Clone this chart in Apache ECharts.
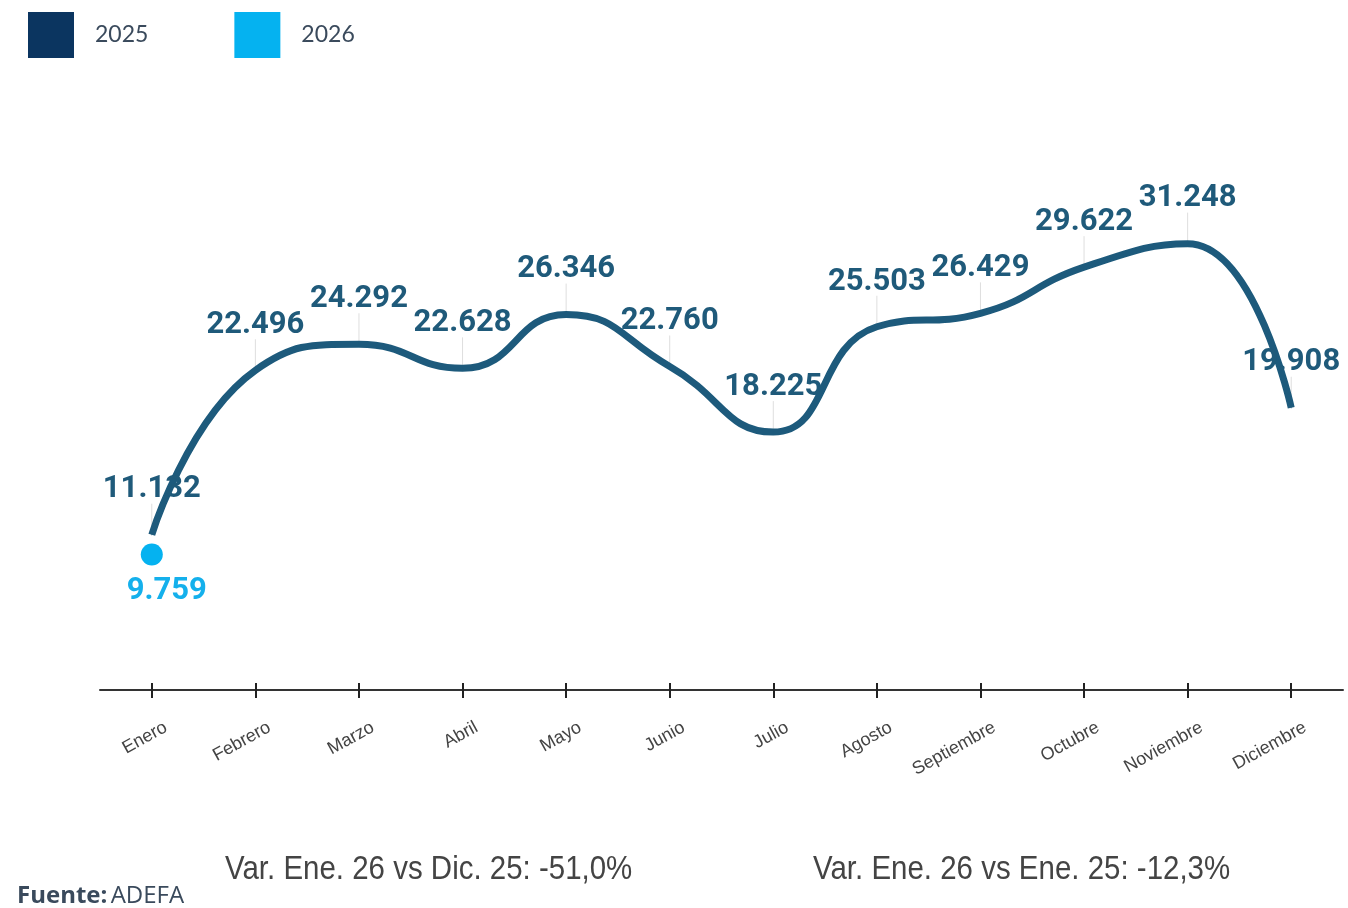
<!DOCTYPE html>
<html>
<head>
<meta charset="utf-8">
<script src="https://cdn.jsdelivr.net/npm/echarts@6/dist/echarts.min.js"></script>
<style>
	html, body { margin: 0; padding: 0; background: #fff; }
	#main { width: 1348px; height: 908px; }
</style>
</head>
<body>
<div id="main"></div>
<script>
'use strict';
// meses
var months = ['Enero', 'Febrero', 'Marzo', 'Abril', 'Mayo', 'Junio', 'Julio',
	'Agosto', 'Septiembre', 'Octubre', 'Noviembre', 'Diciembre'];
// patentamientos 2025
var values2025 = [11132, 22496, 24292, 22628, 26346, 22760, 18225, 25503, 26429, 29622, 31248, 19908];
// 2026 (solo enero)
var values2026 = [9759, null, null, null, null, null, null, null, null, null, null, null];

var noteLeft = 'Var. Ene. 26 vs Dic. 25: -51,0%';
var noteRight = 'Var. Ene. 26 vs Ene. 25: -12,3%';

var lineColor = '#1d5a7c';
var darkColor = '#0b3560';
var lightColor = '#05b2f0';

var chart = echarts.init(document.getElementById('main'));

var fmt = function(v) {
	return v.toLocaleString('de-DE');
};

var tickStyle = { color : '#222', width : 2 };

var option = {
	animation : false,
	legend : {
		left : 28,
		top : 12,
		padding : 0,
		itemWidth : 46,
		itemHeight : 46,
		itemGap : 86,
		icon : 'rect',
		textStyle : {
			fontFamily : 'Lato',
			fontSize : 23,
			color : '#3a4a5c',
			padding : [ 0, 0, 0, 16 ]
		},
		data : [ {
			name : '2025',
			itemStyle : { color : darkColor }
		}, {
			name : '2026',
			itemStyle : { color : lightColor }
		} ]
	},
	grid : {
		left : 100,
		right : 5,
		top : 117,
		bottom : 218
	},
	xAxis : [ {
		type : 'category',
		data : months,
		boundaryGap : true,
		axisLine : {
			lineStyle : { color : '#333', width : 2 }
		},
		axisTick : {
			show : true,
			alignWithLabel : true,
			length : 8,
			lineStyle : tickStyle
		},
		axisLabel : {
			rotate : 29,
			margin : 44,
			interval : 0,
			fontFamily : 'Liberation Sans',
			fontSize : 18,
			color : '#444',
			padding : [ 0, -16, 0, 0 ]
		}
	}, {
		// ticks hacia arriba
		type : 'category',
		data : months,
		position : 'bottom',
		boundaryGap : true,
		axisLine : { show : false },
		axisTick : {
			show : true,
			alignWithLabel : true,
			inside : true,
			length : 7,
			lineStyle : tickStyle
		},
		axisLabel : { show : false }
	} ],
	yAxis : {
		type : 'value',
		min : 400,
		max : 40000,
		show : false
	},
	series : [ {
		// guias de las etiquetas
		type : 'custom',
		z : 1,
		silent : true,
		data : values2025.map(function(v, i) { return [ i, v ]; }),
		renderItem : function(params, api) {
			var p = api.coord([ api.value(0), api.value(1) ]);
			return {
				type : 'line',
				shape : { x1 : p[0], y1 : p[1], x2 : p[0], y2 : p[1] - 31 },
				style : { stroke : '#dedede', lineWidth : 1 }
			};
		}
	}, {
		name : '2025',
		type : 'line',
		z : 3,
		data : values2025,
		smooth : 0.5,
		symbol : 'circle',
		symbolSize : 1,
		itemStyle : { color : lineColor },
		lineStyle : { color : lineColor, width : 7 },
		label : {
			show : true,
			position : 'top',
			distance : 29,
			fontFamily : 'Roboto',
			fontWeight : 'bold',
			fontSize : 31,
			color : '#1f5a7a',
			formatter : function(p) { return fmt(p.value); }
		}
	}, {
		name : '2026',
		type : 'line',
		z : 4,
		data : values2026,
		symbol : 'circle',
		symbolSize : 22,
		itemStyle : { color : lightColor },
		lineStyle : { width : 0 },
		label : {
			show : true,
			position : 'bottom',
			distance : 10,
			offset : [ 15, 0 ],
			fontFamily : 'Roboto',
			fontWeight : 'bold',
			fontSize : 31,
			color : '#14b0ec',
			formatter : function(p) { return fmt(p.value); }
		}
	} ],
	graphic : [ {
		type : 'text',
		x : 225,
		y : 853,
		scaleX : 0.893,
		style : {
			text : noteLeft,
			fontFamily : 'Liberation Sans',
			fontSize : 33,
			fill : '#444'
		}
	}, {
		type : 'text',
		x : 813,
		y : 853,
		scaleX : 0.893,
		style : {
			text : noteRight,
			fontFamily : 'Liberation Sans',
			fontSize : 33,
			fill : '#444'
		}
	}, {
		type : 'text',
		x : 17,
		y : 884,
		style : {
			text : '{b|Fuente:} {n|ADEFA}',
			rich : {
				b : { fontFamily : 'Open Sans', fontWeight : 'bold', fontSize : 24, fill : '#3a4a5c' },
				n : { fontFamily : 'Open Sans', fontSize : 24, fill : '#3a4a5c' }
			}
		}
	} ]
};

chart.setOption(option);
</script>
</body>
</html>
